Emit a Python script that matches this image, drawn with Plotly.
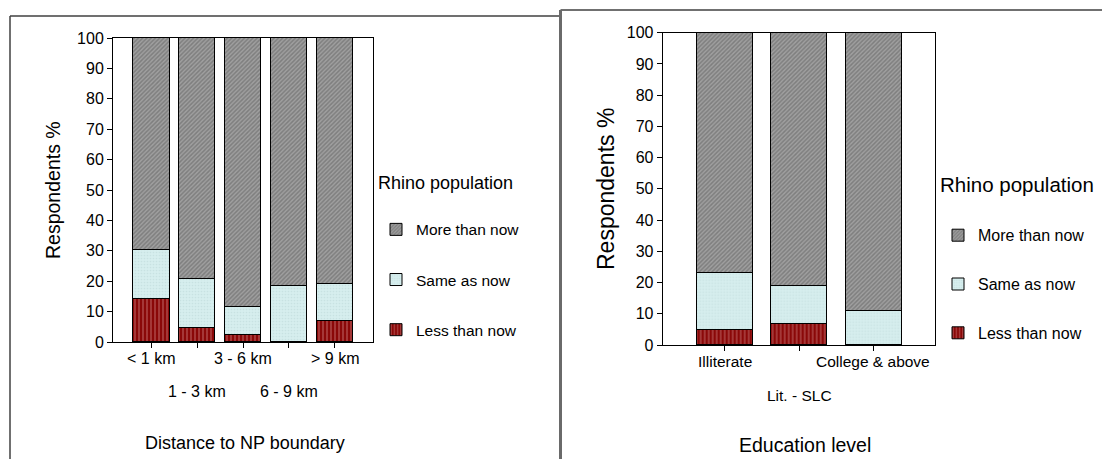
import plotly.graph_objects as go

# ---------------- data ----------------
dist_categories = ["< 1 km", "1 - 3 km", "3 - 6 km", "6 - 9 km", "> 9 km"]
dist_less = [14.1, 4.6, 2.4, 0.0, 6.9]
dist_same = [16.1, 16.2, 9.2, 18.5, 12.1]
dist_more = [69.8, 79.2, 88.4, 81.5, 81.0]

edu_categories = ["Illiterate", "Lit. - SLC", "College & above"]
edu_less = [5.0, 6.9, 0.0]
edu_same = [18.2, 12.1, 11.0]
edu_more = [76.8, 81.0, 89.0]

y_ticks = [0, 10, 20, 30, 40, 50, 60, 70, 80, 90, 100]
series_names = ["Less than now", "Same as now", "More than now"]
legend_ranks = {"More than now": 1, "Same as now": 2, "Less than now": 3}

# ---------------- styles ----------------
W, H = 1102, 459
FONT = "Liberation Sans, Arial, sans-serif"

styles = {
    "Less than now": dict(color="#8a0808",
                          pattern=dict(shape="|", size=4, solidity=0.28, fgcolor="#e8b0b0", bgcolor="#8a0808")),
    "Same as now": dict(color="#d3ecec",
                        pattern=dict(shape=".", size=3, solidity=0.25, fgcolor="#b9d6d6", bgcolor="#d6eeee")),
    "More than now": dict(color="#8c8c8c",
                          pattern=dict(shape="/", size=3, solidity=0.5, fgcolor="#5c5c5c", bgcolor="#a0a0a0")),
}


def px_x(v):
    return v / W


def px_y(v):
    return 1 - v / H


def edge_widths(vals):
    return [1 if v > 0 else 0 for v in vals]


fig = go.Figure()

dist_x = list(range(len(dist_categories)))
edu_x = list(range(len(edu_categories)))

for name, vals in zip(series_names, [dist_less, dist_same, dist_more]):
    st = styles[name]
    fig.add_trace(go.Bar(
        x=dist_x, y=vals, name=name, width=0.8,
        marker=dict(color=st["color"], pattern=st["pattern"],
                    line=dict(color="black", width=edge_widths(vals))),
        xaxis="x", yaxis="y", legend="legend", legendgroup="L" + name,
        legendrank=legend_ranks[name],
    ))

for name, vals in zip(series_names, [edu_less, edu_same, edu_more]):
    st = styles[name]
    fig.add_trace(go.Bar(
        x=edu_x, y=vals, name=name, width=0.75,
        marker=dict(color=st["color"], pattern=st["pattern"],
                    line=dict(color="black", width=edge_widths(vals))),
        xaxis="x2", yaxis="y2", legend="legend2", legendgroup="R" + name,
        legendrank=legend_ranks[name],
    ))

axis_common = dict(showline=True, linecolor="black", linewidth=1, mirror=True,
                   showgrid=False, zeroline=False, ticks="outside", ticklen=5,
                   tickcolor="black")

fig.update_layout(
    width=W, height=H,
    margin=dict(l=0, r=0, t=0, b=0, autoexpand=False),
    paper_bgcolor="white", plot_bgcolor="white",
    barmode="stack", bargap=0,
    font=dict(family=FONT, color="black", size=15),
    xaxis=dict(domain=[px_x(113), px_x(373)], range=[-0.83, 4.83], tickvals=dist_x,
               showticklabels=False, anchor="y", **axis_common),
    yaxis=dict(domain=[px_y(342), px_y(38)], range=[0, 100], tickvals=y_ticks,
               tickfont=dict(size=16), anchor="x", **axis_common),
    xaxis2=dict(domain=[px_x(662.7), px_x(935.3)], range=[-0.83, 2.83], tickvals=edu_x,
                showticklabels=False, anchor="y2", **axis_common),
    yaxis2=dict(domain=[px_y(345), px_y(32.7)], range=[0, 100], tickvals=y_ticks,
                tickfont=dict(size=16), anchor="x2", **axis_common),
    legend=dict(x=px_x(376), y=px_y(166), xanchor="left", yanchor="top",
                title=dict(text="Rhino population<br><span style='font-size:26px'> </span>",
                           font=dict(size=18)),
                font=dict(size=15.5), traceorder="grouped", tracegroupgap=27,
                bgcolor="rgba(0,0,0,0)", itemwidth=30),
    legend2=dict(x=px_x(938), y=px_y(165), xanchor="left", yanchor="top",
                 title=dict(text="Rhino population<br><span style='font-size:25px'> </span>",
                            font=dict(size=20.5)),
                 font=dict(size=16), traceorder="grouped", tracegroupgap=25,
                 bgcolor="rgba(0,0,0,0)", itemwidth=30),
)

annotations = []
# x tick labels staggered on two rows
dist_rows = [px_y(358), px_y(391)]
for i, lab in enumerate(dist_categories):
    annotations.append(dict(x=dist_x[i], y=dist_rows[i % 2], xref="x", yref="paper",
                            text=lab, showarrow=False, font=dict(size=16),
                            xanchor="center", yanchor="middle"))
edu_rows = [px_y(361), px_y(395)]
for i, lab in enumerate(edu_categories):
    annotations.append(dict(x=edu_x[i], y=edu_rows[i % 2], xref="x2", yref="paper",
                            text=lab, showarrow=False, font=dict(size=15.5),
                            xanchor="center", yanchor="middle"))
# axis titles
annotations += [
    dict(x=px_x(245), y=px_y(443), xref="paper", yref="paper", text="Distance to NP boundary",
         showarrow=False, font=dict(size=18), xanchor="center", yanchor="middle"),
    dict(x=px_x(805), y=px_y(445), xref="paper", yref="paper", text="Education level",
         showarrow=False, font=dict(size=19.5), xanchor="center", yanchor="middle"),
    dict(x=px_x(53), y=px_y(190), xref="paper", yref="paper", text="Respondents %",
         showarrow=False, font=dict(size=19.5), textangle=-90, xanchor="center", yanchor="middle"),
    dict(x=px_x(606), y=px_y(189), xref="paper", yref="paper", text="Respondents %",
         showarrow=False, font=dict(size=23), textangle=-90, xanchor="center", yanchor="middle"),
]
fig.update_layout(annotations=annotations)

# panel frames
fig.update_layout(shapes=[
    dict(type="line", xref="paper", yref="paper", x0=px_x(10), x1=px_x(561), y0=px_y(16), y1=px_y(16),
         line=dict(color="#404040", width=1.5)),
    dict(type="line", xref="paper", yref="paper", x0=px_x(10), x1=px_x(10), y0=px_y(16), y1=-0.1,
         line=dict(color="#404040", width=1.5)),
    dict(type="line", xref="paper", yref="paper", x0=px_x(560.5), x1=px_x(1105), y0=px_y(10), y1=px_y(10),
         line=dict(color="#404040", width=1.5)),
    dict(type="line", xref="paper", yref="paper", x0=px_x(560.5), x1=px_x(560.5), y0=px_y(10), y1=-0.1,
         line=dict(color="#6a6a6a", width=3)),
])

fig.write_html("out.html")
